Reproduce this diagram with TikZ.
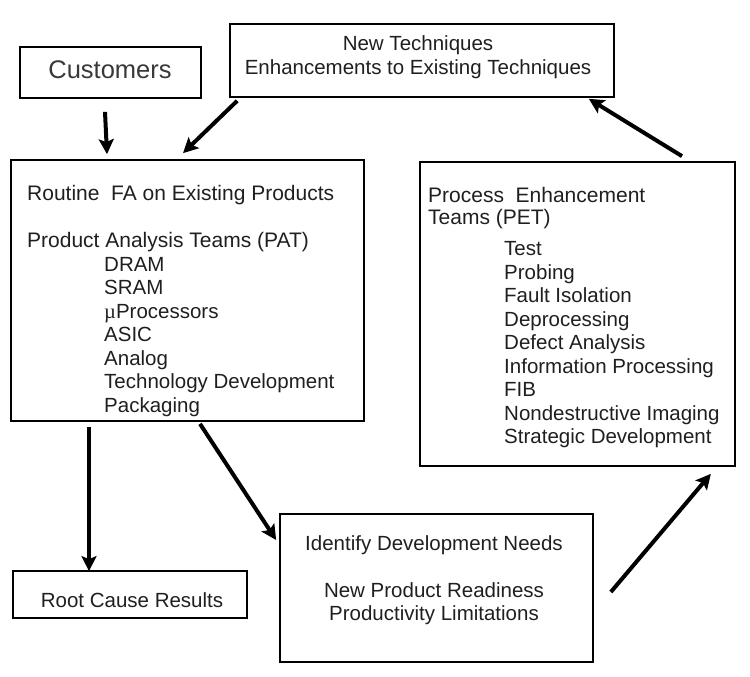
\documentclass[tikz,border=0pt]{standalone}
\usepackage{fontspec}
\setmainfont{Liberation Sans}
\newfontfamily\mufont{Liberation Serif}
\usetikzlibrary{arrows.meta}

\definecolor{txtgray}{gray}{0.12}

\begin{document}
\begin{tikzpicture}[x=1pt,y=-1pt,
  box/.style={draw,rectangle,line width=1.7pt,inner sep=0},
  lbl/.style={inner sep=0,text=txtgray,font=\fontsize{20.5}{23.5}\selectfont},
  flow/.style={line width=4pt,-{Stealth[length=15pt,width=15pt,inset=3pt]}}]
\useasboundingbox (0,0) rectangle (750,677);

\node[box,minimum width=181pt,minimum height=51pt] (cust) at (110.5,72.5) {};
\node[box,minimum width=384pt,minimum height=73pt] (newtech) at (422,60.5) {};
\node[box,minimum width=353pt,minimum height=261pt] (pat) at (187.5,290.5) {};
\node[box,minimum width=315pt,minimum height=304pt] (pet) at (577.5,314) {};
\node[box,minimum width=234pt,minimum height=47pt] (root) at (130,594.5) {};
\node[box,minimum width=313pt,minimum height=148pt] (needs) at (436.5,588) {};

\node[lbl,anchor=base,font=\fontsize{25.5}{30}\selectfont,text=black!78] (cust-t) at (110,78) {Customers};
\node[lbl,anchor=north,align=center,font=\fontsize{20.5}{24}\selectfont] (newtech-t) at (418,35.4)
  {New Techniques\\Enhancements to Existing Techniques};
\node[lbl,anchor=north west,align=left] (pat-t) at (27,185.4) {
  {\fontsize{21}{23.5}\selectfont Routine\ \ FA on Existing Products}\\[23.5pt]
  {\fontsize{21}{23.5}\selectfont Product Analysis Teams (PAT)}\\
  \hspace*{77pt}DRAM\\
  \hspace*{77pt}SRAM\\
  \hspace*{77pt}{\mufont µ}Processors\\
  \hspace*{77pt}ASIC\\
  \hspace*{77pt}Analog\\
  \hspace*{77pt}Technology Development\\
  \hspace*{77pt}Packaging};
\node[lbl,anchor=north west,align=left] (pet-t) at (428,187.4) {
  {\fontsize{21}{23.5}\selectfont Process\ \ Enhancement}\\[-1.5pt]
  {\fontsize{21}{23.5}\selectfont Teams (PET)}\\[7.5pt]
  \hspace*{76pt}Test\\
  \hspace*{76pt}Probing\\
  \hspace*{76pt}Fault Isolation\\
  \hspace*{76pt}Deprocessing\\
  \hspace*{76pt}Defect Analysis\\
  \hspace*{76pt}Information Processing\\
  \hspace*{76pt}FIB\\
  \hspace*{76pt}Nondestructive Imaging\\
  \hspace*{76pt}Strategic Development};
\node[lbl,anchor=base] (root-t) at (132,607) {Root Cause Results};
\node[lbl,anchor=north,align=center,font=\fontsize{20.5}{23}\selectfont] (needs-t) at (434,535.4)
  {Identify Development Needs\\[24pt]New Product Readiness\\Productivity Limitations};

\draw[flow] ([shift={(-5.5,13)}]cust.south) -- ([shift={(-80.5,-5)}]pat.north);
\draw[flow] ([shift={(8,3)}]newtech.south west) -- ([shift={(-4.5,-6)}]pat.north);
\draw[flow] ([shift={(104.5,-5)}]pet.north) -- ([shift={(-26,1)}]newtech.south east);
\draw[flow] ([shift={(-98.5,5)}]pat.south) -- ([shift={(-41,1)}]root.north);
\draw[flow] ([shift={(12.5,2)}]pat.south) -- ([shift={(-3,-48)}]needs.west);
\draw[flow] ([shift={(17,4)}]needs.east) -- ([shift={(-25,7)}]pet.south east);
\end{tikzpicture}
\end{document}
